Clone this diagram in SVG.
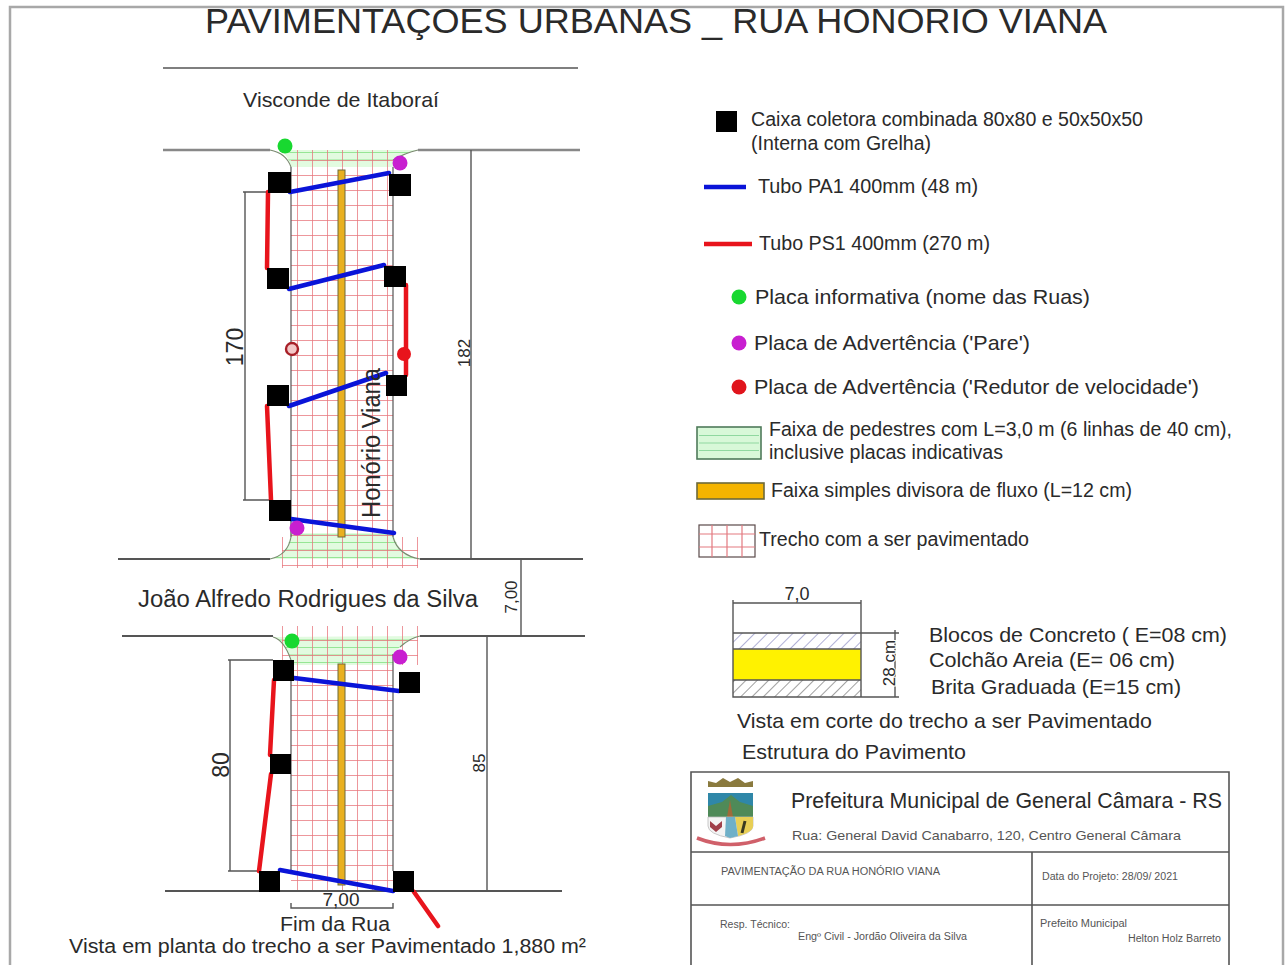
<svg xmlns="http://www.w3.org/2000/svg" width="1286" height="965" viewBox="0 0 1286 965">
<style>
text{font-family:"Liberation Sans",Arial,sans-serif;fill:#2a2a2a}
.ln{fill:none;stroke:#555;stroke-width:1.4}
.rd{fill:none;stroke:#555;stroke-width:1.8}
.ed{fill:none;stroke:#555;stroke-width:1.2}
.cv{fill:none;stroke:#7a8a70;stroke-width:1.1}
.bx{fill:#000}
.bl{fill:none;stroke:#0a14d8;stroke-width:4.5;stroke-linecap:round}
.re{fill:none;stroke:#e8141c;stroke-width:4.5;stroke-linecap:round}
.tb{fill:none;stroke:#555;stroke-width:1.6}
.sm{fill:#555}
</style>
<defs>
<pattern id="grid" patternUnits="userSpaceOnUse" x="297" y="10" width="15" height="15">
<path d="M0 0V15M0 0H15" fill="none" stroke="#e8757c" stroke-width="1.5"/>
</pattern>
<pattern id="green" patternUnits="userSpaceOnUse" x="0" y="2" width="15" height="7.5">
<rect width="15" height="7.5" fill="#e2fbe0"/>
<path d="M0 0H15" stroke="#7fe07f" stroke-width="1.5"/>
</pattern>
<pattern id="hatch1" patternUnits="userSpaceOnUse" width="9" height="9" patternTransform="rotate(45)">
<path d="M0 0V9" stroke="#8f8fc4" stroke-width="1.4"/>
</pattern>
<pattern id="hatch2" patternUnits="userSpaceOnUse" width="8" height="8" patternTransform="rotate(45)">
<path d="M0 0V8" stroke="#777" stroke-width="1.4"/>
</pattern>
</defs>
<rect width="1286" height="965" fill="#fff"/>
<rect x="10" y="7" width="1273" height="975" fill="none" stroke="#a8a8a8" stroke-width="2.5"/>
<text id="title" x="205" y="33" font-size="35" textLength="902" lengthAdjust="spacingAndGlyphs">PAVIMENTAÇOES URBANAS _ RUA HONORIO VIANA</text>

<g id="street-plan">
<path class="ln" d="M163 68H578"/>
<path d="M280 150Q288 155 291 167H393V160Q405 153 418 150Z" fill="url(#green)"/>
<path d="M270 559Q288 555 291 533H393Q398 555 420 559Z" fill="url(#green)"/>
<path d="M273 637Q284 640 291 660V665H393V654L400 647Q410 638 420 636Z" fill="url(#green)"/>
<rect x="291" y="150" width="102" height="387" fill="url(#grid)"/>
<rect x="282" y="537" width="136" height="31" fill="url(#grid)"/>
<rect x="282" y="626" width="136" height="39" fill="url(#grid)"/>
<rect x="291" y="665" width="102" height="226" fill="url(#grid)"/>
<path class="rd" d="M163 150H270M418 150H580" style="stroke:#888;stroke-width:2.4"/>
<path class="cv" d="M270 150Q286 153 291 167M393 160Q405 153 418 150M291 537Q288 555 270 559M393 537Q398 555 420 559M273 637Q284 640 291 660M400 647Q410 638 420 636"/>
<path class="ed" d="M291 167V537M393 167V537"/>
<path class="rd" d="M118 559H270M420 559H583M122 636H273M420 636H585M165 891H562"/>
<path class="ed" d="M291 660V871M393 654V871"/>
<rect x="338" y="170" width="7" height="367" fill="#e9b020" stroke="#6d6a3a"/>
<rect x="338" y="664" width="7" height="221" fill="#e9b020" stroke="#6d6a3a"/>
</g>

<g id="dimensions">
<path class="ln" d="M243 192H268M245 192V500M243 500H270M471 150V559M521 559V636M228 660H273M230 660V871M228 871H260M487 636V891M291 903V908H393V903"/>
<text x="243" y="347" font-size="23" text-anchor="middle" transform="rotate(-90 243 347)">170</text>
<text x="470" y="353" font-size="17" text-anchor="middle" transform="rotate(-90 470 353)">182</text>
<text x="517" y="597" font-size="17" text-anchor="middle" transform="rotate(-90 517 597)">7,00</text>
<text x="229" y="765" font-size="23" text-anchor="middle" transform="rotate(-90 229 765)">80</text>
<text x="485" y="763" font-size="17" text-anchor="middle" transform="rotate(-90 485 763)">85</text>
<text x="341" y="906" font-size="19" text-anchor="middle">7,00</text>
</g>

<g id="connectors">
<path class="bl" d="M290 192L389 173M289 289L384 265M289 406L386 373M291 519L394 533M294 678L399 691M280 870L393 891"/>
<path class="re" d="M268 192L267 268M406 285V375M267 406L271 500M274 680L270 755M271 774L259 871M414 892L438 926"/>
</g>

<g id="boxes">
<rect id="box-1" class="bx" x="268" y="172" width="23" height="21"/>
<rect id="box-2" class="bx" x="389" y="174" width="22" height="22"/>
<rect id="box-3" class="bx" x="267" y="268" width="22" height="21"/>
<rect id="box-4" class="bx" x="384" y="266" width="22" height="21"/>
<rect id="box-5" class="bx" x="267" y="385" width="22" height="21"/>
<rect id="box-6" class="bx" x="386" y="375" width="21" height="21"/>
<rect id="box-7" class="bx" x="269" y="500" width="22" height="21"/>
<rect id="box-8" class="bx" x="273" y="660" width="21" height="21"/>
<rect id="box-9" class="bx" x="399" y="672" width="21" height="21"/>
<rect id="box-10" class="bx" x="270" y="754" width="21" height="20"/>
<rect id="box-11" class="bx" x="259" y="871" width="21" height="21"/>
<rect id="box-12" class="bx" x="393" y="871" width="21" height="21"/>
</g>

<g id="signs">
<circle id="sign-1" cx="285" cy="146" r="7.5" fill="#18d830"/>
<circle id="sign-2" cx="400" cy="163" r="7.5" fill="#c81fd0"/>
<circle id="sign-3" cx="292" cy="349" r="6" fill="#f3c8c8" stroke="#a82028" stroke-width="2.4"/>
<circle id="sign-4" cx="404" cy="354" r="7" fill="#e8141c"/>
<circle id="sign-5" cx="297" cy="528" r="7.5" fill="#c81fd0"/>
<circle id="sign-6" cx="292" cy="641" r="7.5" fill="#18d830"/>
<circle id="sign-7" cx="400" cy="657" r="7.5" fill="#c81fd0"/>
</g>

<g id="street-labels">
<text x="243" y="107" font-size="21" textLength="196" lengthAdjust="spacingAndGlyphs">Visconde de Itaboraí</text>
<text x="138" y="607" font-size="23.500" textLength="340" lengthAdjust="spacingAndGlyphs">João Alfredo Rodrigues da Silva</text>
<text x="380" y="518" font-size="25" textLength="150" lengthAdjust="spacingAndGlyphs" transform="rotate(-90 380 518)">Honório Viana</text>
<text x="280" y="931" font-size="20" textLength="110" lengthAdjust="spacingAndGlyphs">Fim da Rua</text>
<text x="69" y="953" font-size="20" textLength="517" lengthAdjust="spacingAndGlyphs">Vista em planta do trecho a ser Pavimentado 1,880 m²</text>
</g>

<g id="legend">
<g id="legend-box">
<rect class="bx" x="716" y="111" width="21" height="21"/>
<text x="751" y="126" font-size="20" textLength="392" lengthAdjust="spacingAndGlyphs">Caixa coletora combinada 80x80 e 50x50x50</text>
<text x="751" y="150" font-size="20" textLength="180" lengthAdjust="spacingAndGlyphs">(Interna com Grelha)</text>
</g>
<g id="legend-pa1">
<path d="M704 187H746" fill="none" stroke="#0a14d8" stroke-width="4.500"/>
<text x="758" y="193" font-size="20" textLength="220" lengthAdjust="spacingAndGlyphs">Tubo PA1 400mm (48 m)</text>
</g>
<g id="legend-ps1">
<path d="M704 244H752" fill="none" stroke="#e8141c" stroke-width="4.500"/>
<text x="759" y="250" font-size="20" textLength="231" lengthAdjust="spacingAndGlyphs">Tubo PS1 400mm (270 m)</text>
</g>
<g id="legend-info">
<circle cx="739" cy="297" r="7.5" fill="#18d830"/>
<text x="755" y="304" font-size="21" textLength="335" lengthAdjust="spacingAndGlyphs">Placa informativa (nome das Ruas)</text>
</g>
<g id="legend-pare">
<circle cx="739" cy="343" r="7.5" fill="#c81fd0"/>
<text x="754" y="350" font-size="21" textLength="276" lengthAdjust="spacingAndGlyphs">Placa de Advertência ('Pare')</text>
</g>
<g id="legend-redutor">
<circle cx="739" cy="387" r="7.5" fill="#e0141c"/>
<text x="754" y="394" font-size="21" textLength="445" lengthAdjust="spacingAndGlyphs">Placa de Advertência ('Redutor de velocidade')</text>
</g>
<g id="legend-faixa">
<rect x="697" y="427" width="64" height="32" fill="#d8f8d8" stroke="#4f7a5a" stroke-width="1.6"/>
<path d="M699 435.500H759M699 443H759M699 450.500H759" stroke="#8fd89f" stroke-width="1.2"/>
<text x="769" y="436" font-size="19.500" textLength="463" lengthAdjust="spacingAndGlyphs">Faixa de pedestres com L=3,0 m (6 linhas de 40 cm),</text>
<text x="769" y="459" font-size="19.500" textLength="234" lengthAdjust="spacingAndGlyphs">inclusive placas indicativas</text>
</g>
<g id="legend-divisora">
<rect x="697" y="483" width="67" height="16" fill="#f4b400" stroke="#6d6a3a" stroke-width="1.6"/>
<text x="771" y="497" font-size="19.500" textLength="361" lengthAdjust="spacingAndGlyphs">Faixa simples divisora de fluxo (L=12 cm)</text>
</g>
<g id="legend-trecho">
<rect x="699" y="525" width="56" height="32" fill="#fff" stroke="#5a4a4a" stroke-width="1.2"/>
<path d="M699 534H755M699 547H755M712 525V557M727 525V557M742 525V557" fill="none" stroke="#e37a80" stroke-width="1.2"/>
<text x="759" y="546" font-size="19.500" textLength="270" lengthAdjust="spacingAndGlyphs">Trecho com a ser pavimentado</text>
</g>
</g>

<g id="section">
<rect x="733" y="633" width="128" height="16" fill="url(#hatch1)"/>
<rect x="733" y="649" width="128" height="31" fill="#fff200"/>
<rect x="733" y="680" width="128" height="17" fill="url(#hatch2)"/>
<path class="ln" d="M733 600V697H861V600M733 603H861M733 633H861M733 649H861M733 680H861M861 633H899M895 630V697M861 697H899"/>
<text x="797" y="600" font-size="18" text-anchor="middle">7,0</text>
<text x="895" y="663" font-size="17" text-anchor="middle" transform="rotate(-90 895 663)" style="paint-order:stroke;stroke:#fff;stroke-width:2px">28 cm</text>
<text x="929" y="642" font-size="21" textLength="298" lengthAdjust="spacingAndGlyphs">Blocos de Concreto ( E=08 cm)</text>
<text x="929" y="667" font-size="21" textLength="246" lengthAdjust="spacingAndGlyphs">Colchão Areia (E= 06 cm)</text>
<text x="931" y="694" font-size="21" textLength="250" lengthAdjust="spacingAndGlyphs">Brita Graduada (E=15 cm)</text>
<text x="737" y="728" font-size="21" textLength="415" lengthAdjust="spacingAndGlyphs">Vista em corte do trecho a ser Pavimentado</text>
<text x="742" y="759" font-size="21" textLength="224" lengthAdjust="spacingAndGlyphs">Estrutura do Pavimento</text>
</g>

<g id="title-block">
<path class="tb" d="M691 965V772H1229V965M691 852H1229M691 905H1229M1032 852V965"/>
<g id="crest">
<path d="M708 787V781L716 783L723 778L730 782L738 778L745 783L753 781V787Z" fill="#8a7a3e"/>
<rect x="708" y="793" width="45" height="24" fill="#2f87a8"/>
<path d="M708 806L722 802L731 795L740 802L753 806V817H708Z" fill="#4f8a58"/>
<path d="M727 817L730 800L733 817Z" fill="#a06a3a"/>
<path d="M708 817H753V826Q753 834 730 838Q708 834 708 826Z" fill="#f4f4f4" stroke="#bbb" stroke-width="0.800"/>
<path d="M735 817H753V826Q753 832 738 836Z" fill="#e8cf55"/>
<path d="M726 817H735L738 836L730 838L725 836Z" fill="#6fb0c8"/>
<path d="M710 821L716 826L722 821L722 827L716 832L710 827Z" fill="#a0404a"/>
<path d="M745 821L742 833" stroke="#3a3a20" stroke-width="3"/>
<path d="M697 838Q730 851 765 838" fill="none" stroke="#d0606a" stroke-width="3.500"/>
</g>
<text x="791" y="808" font-size="21.500" textLength="431" lengthAdjust="spacingAndGlyphs">Prefeitura Municipal de General Câmara - RS</text>
<text x="792" y="840" font-size="13" class="sm" textLength="389" lengthAdjust="spacingAndGlyphs">Rua: General David Canabarro, 120, Centro General Câmara</text>
<text x="721" y="875" font-size="10" class="sm" textLength="219" lengthAdjust="spacingAndGlyphs">PAVIMENTAÇÃO DA RUA HONÓRIO VIANA</text>
<text x="1042" y="880" font-size="10" class="sm" textLength="136" lengthAdjust="spacingAndGlyphs">Data do Projeto: 28/09/ 2021</text>
<text x="720" y="928" font-size="10" class="sm" textLength="70" lengthAdjust="spacingAndGlyphs">Resp. Técnico:</text>
<text x="798" y="940" font-size="10" class="sm" textLength="169" lengthAdjust="spacingAndGlyphs">Engº Civil - Jordão Oliveira da Silva</text>
<text x="1040" y="927" font-size="10" class="sm" textLength="87" lengthAdjust="spacingAndGlyphs">Prefeito Municipal</text>
<text x="1128" y="942" font-size="10" class="sm" textLength="93" lengthAdjust="spacingAndGlyphs">Helton Holz Barreto</text>
</g>
</svg>
